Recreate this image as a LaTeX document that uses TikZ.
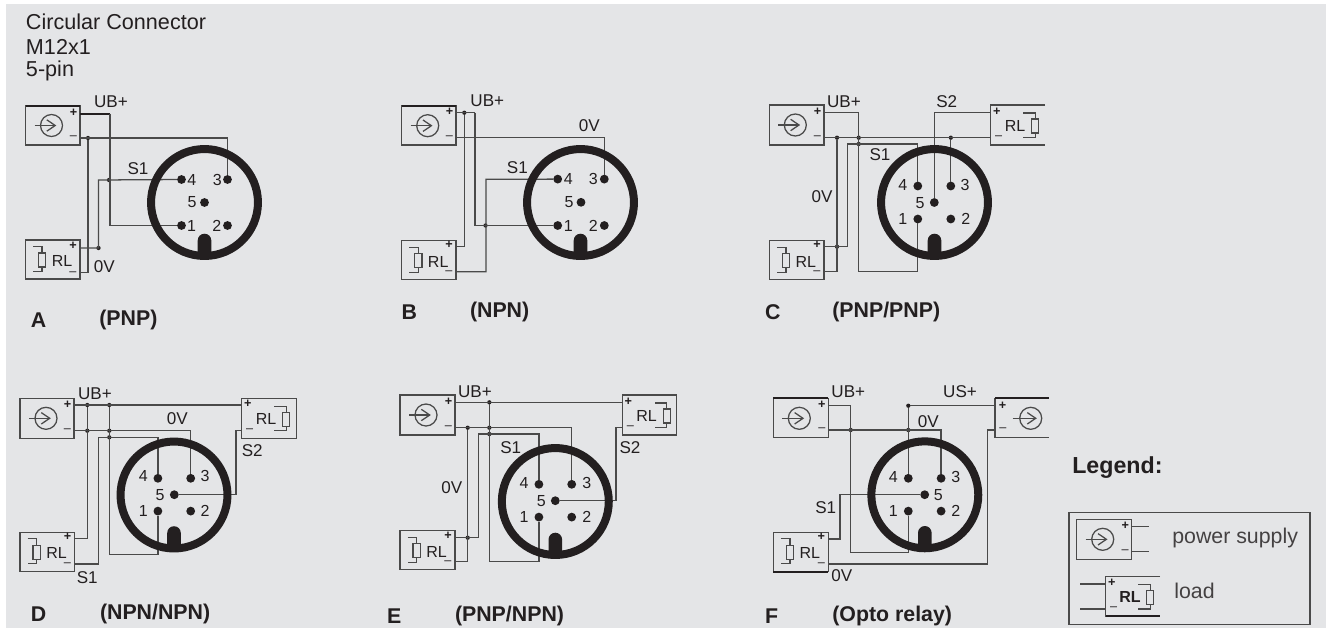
\documentclass[tikz,border=0pt]{standalone}
\usepackage{fontspec}
\setmainfont{Liberation Sans}
\definecolor{panel}{HTML}{E4E5E7}
\definecolor{ink}{HTML}{231F20}
\definecolor{wirec}{HTML}{4A4A4A}
% all sizes are given in reference pixels: 1px = 0.75pt
\newcommand{\fsTitle}{\fontsize{16.2}{18}\selectfont}
\newcommand{\fsWire}{\fontsize{12.8}{14}\selectfont}
\newcommand{\fsPin}{\fontsize{12}{14}\selectfont}
\newcommand{\fsCap}{\fontsize{16}{18}\selectfont}
\newcommand{\fsLeg}{\fontsize{17.4}{20}\selectfont}
\newcommand{\fsRL}{\fontsize{12}{13}\selectfont}
\newcommand{\fsBody}{\fontsize{16}{18}\selectfont}
\newcommand{\fsTerm}{\fontsize{9.5}{11}\selectfont}
\tikzset{
  wire/.style={draw=wirec,line width=0.95pt,line join=miter},
  thickwire/.style={draw=ink,line width=1.5pt},
  boxline/.style={draw=wirec,line width=0.95pt},
  boxbody/.style={inner sep=0pt,outer sep=0pt,rectangle},
  pinnode/.style={circle,fill=ink,inner sep=0pt,outer sep=0pt,minimum size=6.6pt},
  jn/.style={circle,fill=ink,inner sep=0pt,outer sep=0pt,minimum size=3.2pt},
  ringnode/.style={circle,draw=ink,line width=6pt,inner sep=0pt,outer sep=0pt,minimum size=80.2pt},
  lab/.style={inner sep=0pt,outer sep=0pt,text=ink},
  wirelab/.style={lab,font=\fsWire},
  pinlab/.style={lab,font=\fsPin},
  caplab/.style={lab,anchor=west,font=\fsCap\bfseries},
  termlab/.style={lab,font=\fsTerm},
  rllab/.style={lab,font=\fsRL,text=ink},
}
% terminal-side names: #1-p and #1-m
\newcommand{\boxnode}[5]{% name L T R B
  \pgfmathsetmacro{\bw}{(#4-#2)*0.75}\pgfmathsetmacro{\bh}{(#5-#3)*0.75}
  \node[boxbody,minimum width=\bw pt,minimum height=\bh pt,anchor=north west] (#1) at (#2,#3) {};}
\newcommand{\closedL}[1]{\draw[boxline] (#1.north west) rectangle (#1.south east);}
\newcommand{\openR}[1]{\draw[boxline] (#1.north east) -- (#1.north west) -- (#1.south west) -- (#1.south east);}
\newcommand{\closeRight}[1]{\draw[boxline] (#1.north east) -- (#1.south east);}
% supply, terminals on its right side
\newcommand{\supplyL}[7]{\boxnode{#1}{#2}{#3}{#4}{#5}\closedL{#1}
  \coordinate (#1-p) at (#4,#6); \coordinate (#1-m) at (#4,#7);
  \begin{scope}[shift={(#2,#3)}]
    \draw[boxline] (26,20) circle (11);
    \draw[boxline] (9,20) -- (29.7,20);
    \draw[boxline] (21.3,14.3) -- (29.7,20) -- (21.3,25.7);
  \end{scope}
  \node[termlab] (#1-plus) at (#4-6.5,#6-.5) {\textbf{+}};
  \node[termlab] (#1-minus) at (#4-6.5,#7) {–};}
% supply, terminals on its left side, open at the right
\newcommand{\supplyR}[7]{\boxnode{#1}{#2}{#3}{#4}{#5}\openR{#1}
  \coordinate (#1-p) at (#2,#6); \coordinate (#1-m) at (#2,#7);
  \begin{scope}[shift={(#2,#3)}]
    \draw[boxline] (35.7,20) circle (11);
    \draw[boxline] (17.7,20) -- (40.7,20);
    \draw[boxline] (32.3,14.3) -- (40.7,20) -- (32.3,25.7);
  \end{scope}
  \node[termlab] (#1-plus) at (#2+7.5,#6) {\textbf{+}};
  \node[termlab] (#1-minus) at (#2+8,#7) {–};}
% load, terminals on its right side
\newcommand{\loadL}[7]{\boxnode{#1}{#2}{#3}{#4}{#5}\closedL{#1}
  \coordinate (#1-p) at (#4,#6); \coordinate (#1-m) at (#4,#7);
  \begin{scope}[shift={(#2,#3)}]
    \draw[boxline] (13,13) rectangle (20.3,27);
    \draw[boxline] (7.5,6.5) -- (16.6,6.5) -- (16.6,13);
    \draw[boxline] (16.6,27) -- (16.6,31.5) -- (7.5,31.5);
    \node[rllab] (#1-rl) at (36.5,21) {RL};
  \end{scope}
  \node[termlab] (#1-plus) at (#4-7,#6-2) {\textbf{+}};
  \node[termlab] (#1-minus) at (#4-7,#7+.5) {–};}
% load, terminals on its left side, open at the right
\newcommand{\loadR}[7]{\boxnode{#1}{#2}{#3}{#4}{#5}\openR{#1}
  \coordinate (#1-p) at (#2,#6); \coordinate (#1-m) at (#2,#7);
  \begin{scope}[shift={(#2,#3)}]
    \draw[boxline] (41,14) rectangle (48,28);
    \draw[boxline] (32.7,8) -- (44.5,8) -- (44.5,14);
    \draw[boxline] (44.5,28) -- (44.5,32.3) -- (32.7,32.3);
    \node[rllab] (#1-rl) at (24.3,20.5) {RL};
  \end{scope}
  \node[termlab] (#1-plus) at (#2+6,#6-1) {\textbf{+}};
  \node[termlab] (#1-minus) at (#2+8,#7) {–};}
% pins of one connector: prefix cx cy dx dy
\newcommand{\pins}[5]{
  \node[pinnode] (#1-1) at (#2-#4,#3+#5) {};
  \node[pinnode] (#1-2) at (#2+#4,#3+#5) {};
  \node[pinnode] (#1-3) at (#2+#4,#3-#5) {};
  \node[pinnode] (#1-4) at (#2-#4,#3-#5) {};
  \node[pinnode] (#1-5) at (#2,#3) {};}
% connector body: prefix cx cy
\newcommand{\ringbody}[3]{
  \node[ringnode] (#1-ring) at (#2,#3) {};
  \fill[ink] (#2-6.8,#3+54) -- (#2-6.8,#3+38) arc[start angle=180,end angle=360,radius=6.8] -- (#2+6.8,#3+54) -- cycle;}
\newcommand{\pinlabels}[6]{% prefix, then five "x,y" pairs for 1..5
  \node[pinlab] (#1-t1) at (#2) {1}; \node[pinlab] (#1-t2) at (#3) {2};
  \node[pinlab] (#1-t3) at (#4) {3}; \node[pinlab] (#1-t4) at (#5) {4};
  \node[pinlab] (#1-t5) at (#6) {5};}
\begin{document}
\begin{tikzpicture}[x=0.75pt,y=-0.75pt]
\useasboundingbox (0,0) rectangle (1326,628);
\fill[panel] (6,4) rectangle (1326,628);

% title
\node[lab,anchor=west,font=\fsTitle] (title1) at (26,22) {Circular Connector};
\node[lab,anchor=west,font=\fsTitle] (title2) at (26,46.5) {M12x1};
\node[lab,anchor=west,font=\fsTitle] (title3) at (26,71) {5-pin};

%%%%%% A
\supplyL{A-s}{25.5}{105.5}{80}{145}{113.5}{138}
\loadL{A-l}{25.5}{240}{80}{279}{248}{272.7}
\draw[thickwire] (A-s.north west) -- (A-s.north east);
\pins{A}{204.5}{202.5}{23}{23}
\coordinate (A-a) at (110,113.5);
\coordinate (A-b) at (98.5,180);
\node[jn] (A-j1) at (88,138) {};
\node[jn] (A-j2) at (98.5,248) {};
\node[jn] (A-j3) at (109,180) {};
\draw[thickwire] (A-s-p) -- (A-a);
\draw[wire] (A-a) |- (A-1);
\draw[wire] (A-s-m) -- (A-3 |- A-j1) -- (A-3);
\draw[wire] (A-j1) |- (A-l-m);
\draw[wire] (A-l-p) -| (A-b) -- (A-4);
\ringbody{A}{204.5}{202.5}
\pinlabels{A}{191.5,226}{216.7,226}{217.3,180}{191.7,180}{192,202}
\node[wirelab] (A-ub) at (111,101.7) {UB+};
\node[wirelab] (A-s1) at (138,168.3) {S1};
\node[wirelab] (A-0v) at (104.3,266.7) {0V};
\node[caplab] (A-c1) at (31,320) {A};
\node[caplab] (A-c2) at (99.3,320) {(PNP)};

%%%%%% B
\supplyL{B-s}{401.7}{105.7}{456}{145}{112.7}{137.7}
\loadL{B-l}{401.7}{240.7}{456}{279.3}{246.7}{271.7}
\draw[thickwire] (B-s.north west) -- (B-s.north east);
\pins{B}{581}{202.3}{23.3}{23.2}
\coordinate (B-a) at (475,112.7);
\coordinate (B-b) at (486,179.3);
\node[jn] (B-j1) at (464.3,112.7) {};
\node[jn] (B-j2) at (485.5,225.5) {};
\draw[wire] (B-s-p) -- (B-a);
\draw[wire] (B-a) |- (B-1);
\draw[wire] (B-j1) |- (B-l-p);
\draw[wire] (B-s-m) -- (B-3 |- B-s-m) -- (B-3);
\draw[wire] (B-l-m) -| (B-b) -- (B-4);
\ringbody{B}{580.5}{202.5}
\pinlabels{B}{568.3,225.7}{593.3,225.7}{593.3,179.3}{568.3,179.3}{569,202}
\node[wirelab] (B-ub) at (487.3,100.7) {UB+};
\node[wirelab] (B-0v) at (589.3,125.7) {0V};
\node[wirelab] (B-s1) at (517.3,167.3) {S1};
\node[caplab] (B-c1) at (401.7,311.7) {B};
\node[caplab] (B-c2) at (470,311.7) {(NPN)};

%%%%%% C
\supplyL{C-s}{769.3}{105}{824}{145}{112.7}{137.7}
\loadL{C-l}{769.3}{240.7}{824}{279.3}{246.7}{271.7}
\loadR{C-r}{990.7}{105}{1045}{145}{112.7}{137.7}
\pins{C}{934.3}{202.5}{16.5}{16.5}
\coordinate (C-a) at (858.7,112.7);
\coordinate (C-b) at (858.7,271.7);
\coordinate (C-c) at (847.7,144);
\node[jn] (C-j1) at (837,137.7) {};
\node[jn] (C-j2) at (858.7,137.7) {};
\node[jn] (C-j3) at (858.7,144) {};
\node[jn] (C-j4) at (950.8,137.7) {};
\node[jn] (C-j5) at (837,246.7) {};
\draw[wire] (C-s-p) -- (C-a) -- (C-b) -- (C-1 |- C-b) -- (C-1);
\draw[wire] (C-s-m) -- (C-r-m);
\draw[wire] (C-j4) -- (C-3);
\draw[wire] (C-j1) |- (C-l-m);
\draw[wire] (C-l-p) -| (C-c) -- (C-4 |- C-c) -- (C-4);
\draw[wire] (C-r-p) -- (C-5 |- C-r-p) -- (C-5);
\ringbody{C}{934.5}{202.5}
\pinlabels{C}{902.7,219}{965.7,219}{965,185}{902.7,185}{920,203}
\node[wirelab] (C-ub) at (844,101.7) {UB+};
\node[wirelab] (C-s2) at (946.7,101.7) {S2};
\node[wirelab] (C-s1) at (880,155) {S1};
\node[wirelab] (C-0v) at (822,197) {0V};
\node[caplab] (C-c1) at (765,311.7) {C};
\node[caplab] (C-c2) at (832.3,311.7) {(PNP/PNP)};

%%%%%% D
\supplyL{D-s}{20}{398.3}{74}{438.3}{405}{430.7}
\loadL{D-l}{20}{532.3}{74.5}{571.7}{538.3}{564}
\loadR{D-r}{241.7}{398.3}{296.7}{438.3}{405}{430.7}
\closeRight{D-r}
\pins{D}{174.3}{494.7}{16.4}{16.4}
\node[jn] (D-j1) at (87.3,405) {};
\node[jn] (D-j2) at (109.3,405) {};
\node[jn] (D-j3) at (87.3,430.7) {};
\node[jn] (D-j4) at (109.3,430.7) {};
\node[jn] (D-j5) at (109.3,437.3) {};
\coordinate (D-a) at (109.3,554.3);
\coordinate (D-b) at (98.7,437.3);
\coordinate (D-c) at (236,430.7);
\draw[wire] (D-s-p) -- (D-r-p);
\draw[wire] (D-j1) |- (D-l-p);
\draw[wire] (D-j2) -- (D-a) -- (D-1 |- D-a) -- (D-1);
\draw[wire] (D-s-m) -- (D-3 |- D-s-m) -- (D-3);
\draw[wire] (D-l-m) -| (D-b) -- (D-4 |- D-b) -- (D-4);
\draw[wire] (D-r-m) -- (D-c) |- (D-5);
\ringbody{D}{174}{495}
\pinlabels{D}{143.3,511}{205,511}{205,476}{143.3,476}{160,495}
\node[wirelab] (D-ub) at (95,394) {UB+};
\node[wirelab] (D-0v) at (177.3,419) {0V};
\node[wirelab] (D-s2) at (252.3,450.7) {S2};
\node[wirelab] (D-s1) at (87.3,577.3) {S1};
\node[caplab] (D-c1) at (31,614) {D};
\node[caplab] (D-c2) at (100,614) {(NPN/NPN)};

%%%%%% E
\supplyL{E-s}{400}{395}{455}{435}{402.3}{427.7}
\loadL{E-l}{400}{530.7}{455}{569.3}{537.7}{561.7}
\loadR{E-r}{622.3}{395}{676.7}{435}{402.3}{427.7}
\closeRight{E-r}
\pins{E}{555.3}{500.7}{16.4}{16.4}
\node[jn] (E-j1) at (489.3,402.3) {};
\node[jn] (E-j2) at (467.7,427.7) {};
\node[jn] (E-j3) at (489.3,427.7) {};
\node[jn] (E-j4) at (489.3,434) {};
\node[jn] (E-j5) at (467.7,537.7) {};
\coordinate (E-a) at (489.3,561.7);
\coordinate (E-b) at (478.7,434);
\coordinate (E-c) at (616,427.7);
\draw[wire] (E-s-p) -- (E-r-p);
\draw[wire] (E-j1) -- (E-a) -- (E-1 |- E-a) -- (E-1);
\draw[wire] (E-s-m) -- (E-3 |- E-s-m) -- (E-3);
\draw[wire] (E-j2) |- (E-l-m);
\draw[wire] (E-l-p) -| (E-b) -- (E-4 |- E-b) -- (E-4);
\draw[wire] (E-r-m) -- (E-c) |- (E-5);
\ringbody{E}{555.3}{501.5}
\pinlabels{E}{524,517}{586.7,517}{586.7,483}{524,483}{541.3,501}
\node[wirelab] (E-ub) at (475,391.7) {UB+};
\node[wirelab] (E-s1) at (510.7,447.3) {S1};
\node[wirelab] (E-s2) at (630,447.3) {S2};
\node[wirelab] (E-0v) at (451.7,487.3) {0V};
\node[caplab] (E-c1) at (387,615.7) {E};
\node[caplab] (E-c2) at (455,615.7) {(PNP/NPN)};

%%%%%% F
\supplyL{F-s}{773.3}{398.3}{828.3}{437.3}{405.7}{430}
\loadL{F-l}{773.3}{532.3}{828.3}{571.7}{539}{564}
\supplyR{F-r}{995}{398.3}{1049}{437.3}{405.7}{430}
\draw[thickwire] (F-s.north west) -- (F-s.north east);
\draw[thickwire] (F-r.north west) -- (F-r.north east);
\draw[thickwire] (F-l.south west) -- (F-l.south east);
\pins{F}{924.7}{494.7}{16.4}{16.4}
\node[jn] (F-j1) at (850.7,430) {};
\node[jn] (F-j2) at (908.3,430) {};
\node[jn] (F-j3) at (908.3,405.7) {};
\coordinate (F-a) at (850.7,405.7);
\coordinate (F-b) at (850.7,552.3);
\coordinate (F-c) at (840,494.7);
\coordinate (F-d) at (987.7,564);
\coordinate (F-e) at (987.7,430);
\draw[wire] (F-s-p) -- (F-a) -- (F-b) -- (F-1 |- F-b) -- (F-1);
\draw[wire] (F-s-m) -- (F-3 |- F-s-m) -- (F-3);
\draw[wire] (F-r-p) -- (F-j3) -- (F-4);
\draw[wire] (F-l-p) -| (F-c) -- (F-5);
\draw[wire] (F-l-m) -- (F-d) -- (F-e) -- (F-r-m);
\ringbody{F}{924.8}{494.8}
\pinlabels{F}{893.3,511}{955.7,511}{955.7,477}{893.3,477}{938.3,494.7}
\node[wirelab] (F-ub) at (848.3,391.7) {UB+};
\node[wirelab] (F-us) at (960,391.7) {US+};
\node[wirelab] (F-0v) at (928.3,421.7) {0V};
\node[wirelab] (F-s1) at (825.7,507.7) {S1};
\node[wirelab] (F-0b) at (841.7,575.7) {0V};
\node[caplab] (F-c1) at (765,615.7) {F};
\node[caplab] (F-c2) at (832.3,615.7) {(Opto relay)};

%%%%%% Legend
\node[lab,anchor=west,font=\fsLeg\bfseries] (L-title) at (1072.3,467.7) {Legend:};
\node[boxbody,draw=wirec,line width=1.1pt,minimum width=180.75pt,minimum height=83.7pt,anchor=north west] (L-frame) at (1069,512.7) {};
\supplyL{L-s}{1076.7}{519.3}{1131.7}{559.3}{526.7}{551.7}
\coordinate (L-sp) at (1149,526.7);
\coordinate (L-sm) at (1149,551.7);
\draw[wire] (L-s-p) -- (L-sp);
\draw[wire] (L-s-m) -- (L-sm);
\begin{scope}[rllab/.style={lab,font=\fsRL\bfseries}]
\loadR{L-r}{1105.7}{576.7}{1160}{616}{584}{609}
\end{scope}
\draw[thickwire,line width=1.1pt] (L-r.south west) -- (L-r.south east);
\coordinate (L-rp) at (1080,584);
\coordinate (L-rm) at (1080,609);
\draw[wire] (L-rp) -- (L-r-p);
\draw[wire] (L-rm) -- (L-r-m);
\node[lab,anchor=west,font=\fsBody,text=ink!85] (L-t1) at (1172.3,538) {power supply};
\node[lab,anchor=west,font=\fsBody,text=ink!85] (L-t2) at (1174.3,591) {load};
\end{tikzpicture}
\end{document}
